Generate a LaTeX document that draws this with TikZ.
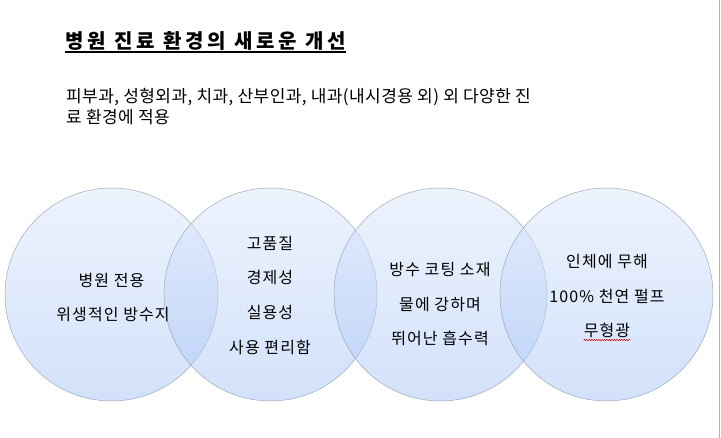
\documentclass[tikz,border=0pt]{standalone}
\usepackage{fontspec}
\setmainfont{Noto Sans CJK KR}
\newfontfamily\titlefont[LetterSpace=19]{Noto Sans CJK KR}
\newfontfamily\bodyfont[LetterSpace=2.5]{Noto Sans CJK KR}
\newfontfamily\circfont[LetterSpace=7]{Noto Sans CJK KR}
\usetikzlibrary{decorations.pathmorphing}
\definecolor{bubtop}{HTML}{DDE9FD}
\definecolor{bubbot}{HTML}{A7C5F7}
\definecolor{bubedge}{HTML}{8E98A8}
\definecolor{edgeline}{HTML}{B4B4B4}
\tikzset{
  bub/.style={circle, minimum size=213pt, inner sep=0pt, draw=bubedge, line width=0.5pt,
    top color=bubtop, bottom color=bubbot, fill opacity=0.5, draw opacity=0.8},
  ctext/.style={inner sep=0pt, font=\circfont\fontsize{16}{18}\selectfont, text=black},
}
\begin{document}
\begin{tikzpicture}[x=1pt,y=-1pt]
\useasboundingbox (0,0) rectangle (721,438);
\fill[white] (0,0) rectangle (721,438);
\draw[edgeline, line width=0.8pt] (719,0) -- (719,438);
% title
\node[anchor=west, inner sep=0pt, font=\titlefont\bfseries\fontsize{20}{22}\selectfont] (title) at (65,41) {병원 진료 환경의 새로운 개선};
\draw[line width=1.6pt] ([yshift=-11pt]title.west) -- ([yshift=-11pt]title.east);
% body
\node[anchor=north west, inner sep=0pt, align=left, font=\bodyfont\fontsize{17}{21.5}\selectfont] (body) at (66,88)
  {피부과, 성형외과, 치과, 산부인과, 내과(내시경용 외) 외 다양한 진\\료 환경에 적용};
% circles
\node[bub] (c1) at (111.5,294.5) {};
\node[bub] (c2) at (270.5,294.5) {};
\node[bub] (c3) at (440.5,294.5) {};
\node[bub] (c4) at (606.5,294.5) {};
% circle texts
\node[ctext] (a1) at (111.5,280) {병원 전용};
\node[ctext] (a2) at (113,315) {위생적인 방수지};
\node[ctext] (b1) at (270,243) {고품질};
\node[ctext] (b2) at (270,278) {경제성};
\node[ctext] (b3) at (270,312) {실용성};
\node[ctext] (b4) at (270,347) {사용 편리함};
\node[ctext] (d1) at (440,270) {방수 코팅 소재};
\node[ctext] (d2) at (440,305) {물에 강하며};
\node[ctext] (d3) at (440,338) {뛰어난 흡수력};
\node[ctext] (e1) at (607,262) {인체에 무해};
\node[ctext] (e2) at (607,296) {100\% 천연 펄프};
\node[ctext] (e3) at (607,330) {무형광};
\draw[red!85!black, line width=0.5pt, decorate, decoration={snake, amplitude=0.7pt, segment length=2.5pt}]
  ([yshift=-2.5pt]e3.south west) -- ([yshift=-2.5pt]e3.south east);
\end{tikzpicture}
\end{document}
